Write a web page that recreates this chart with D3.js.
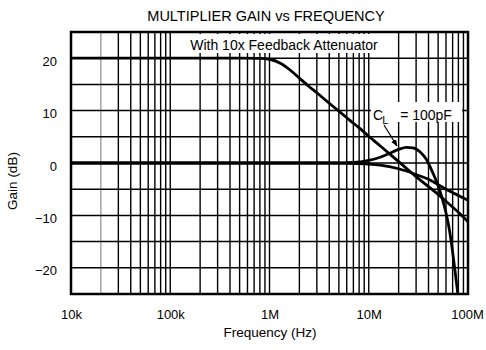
<!DOCTYPE html>
<html><head><meta charset="utf-8">
<script src="https://cdn.jsdelivr.net/npm/d3@7"></script>
<style>
html,body{margin:0;padding:0;background:#fff;}
svg{display:block;font-family:"Liberation Sans",Arial,Helvetica,sans-serif;}
</style></head>
<body><svg id="c" width="486" height="350"></svg>
<script>
// ---- data ----
const title = "MULTIPLIER GAIN vs FREQUENCY";
const xTickValues = [1e4, 1e5, 1e6, 1e7, 1e8];
const xTickLabels = ["10k", "100k", "1M", "10M", "100M"];
const yTickValues = [-20, -10, 0, 10, 20];
const yTickLabels = ["\u221220", "\u221210", "0", "10", "20"];
const yGridValues = [-20, -15, -10, -5, 0, 5, 10, 15, 20];

// With 10x feedback attenuator (20 dB)
const attenFreq = [1e4, 5e5, 8e5, 1e6, 1.3e6, 1.6e6, 2e6, 2.5e6, 3e6, 4e6, 5e6, 6.5e6, 8e6, 1e7, 1.3e7, 1.7e7, 2.2e7, 3e7, 4e7, 5e7, 6e7, 8e7, 1e8];
const attenGain = [20, 20, 19.95, 19.8, 19.0, 17.8, 16.2, 14.6, 13.4, 11.4, 9.9, 8.1, 6.7, 5.1, 3.3, 1.4, -0.4, -2.6, -4.5, -6.0, -7.3, -9.4, -11.2];
// Unity gain, no load
const unityFreq = [1e4, 4e6, 8e6, 1e7, 1.3e7, 2e7, 3e7, 4e7, 6e7, 8e7, 1e8];
const unityGain = [0, 0, -0.1, -0.2, -0.4, -1.1, -2.2, -3.1, -5.0, -6.2, -7.1];
// Unity gain, CL = 100pF
const loadFreq = [1e4, 4e6, 7e6, 1e7, 1.3e7, 1.6e7, 2e7, 2.4e7, 2.8e7, 3.3e7, 3.8e7, 4.4e7, 5e7, 5.5e7, 6e7, 6.5e7, 7e7, 7.5e7, 7.9e7];
const loadGain = [0, 0, 0.1, 0.5, 1.1, 1.8, 2.6, 3.0, 2.9, 2.1, 0.7, -1.8, -4.3, -6.8, -9.5, -12.8, -17.0, -21.5, -25];

const annotTop = "With 10x Feedback Attenuator";
const annotCL = ["C", "L", " = 100pF"];

// ---- layout ----
const svg = d3.select("#c");
const X0 = 71, X1 = 468, Y0 = 32, Y1 = 294;
const x = d3.scaleLog().domain([1e4, 1e8]).range([X0, X1]);
const y = d3.scaleLinear().domain([-25, 25]).range([Y1, Y0]);

svg.append("defs").append("clipPath").attr("id", "clip")
  .append("rect").attr("x", X0).attr("y", Y0).attr("width", X1 - X0).attr("height", Y1 - Y0);
svg.select("defs").append("marker").attr("id", "arr")
  .attr("viewBox", "0 0 10 10").attr("refX", 9).attr("refY", 5)
  .attr("markerWidth", 7).attr("markerHeight", 7).attr("orient", "auto")
  .attr("markerUnits", "userSpaceOnUse")
  .append("path").attr("d", "M0,1 L10,5 L0,9 Z").attr("fill", "#000");

// title
svg.append("text").attr("x", 266).attr("y", 21).attr("text-anchor", "middle")
  .attr("font-size", 14.5).text(title);

// grid
const vGrid = [];
for (let d = 4; d < 8; d++) for (let m = 1; m < 10; m++) vGrid.push(m * Math.pow(10, d));
vGrid.push(1e8);
const g = svg.append("g");
g.selectAll("line.v").data(vGrid).join("line")
  .attr("x1", d => x(d)).attr("x2", d => x(d)).attr("y1", Y0).attr("y2", Y1)
  .attr("stroke", "#000").attr("stroke-width", d => (d === 2e4 ? 0.9 : 1.4))
  .attr("stroke-opacity", d => (d === 2e4 ? 0.6 : 1));
g.selectAll("line.h").data(yGridValues).join("line")
  .attr("x1", X0).attr("x2", X1).attr("y1", d => y(d)).attr("y2", d => y(d))
  .attr("stroke", "#000").attr("stroke-width", 1.5);

// annotation boxes (white backgrounds)
svg.append("rect").attr("x", 173).attr("y", 34).attr("width", 219).attr("height", 19).attr("fill", "#fff");
svg.append("rect").attr("x", 371).attr("y", 102).attr("width", 91).attr("height", 20).attr("fill", "#fff");

// curves
const line = d3.line().x(d => x(d[0])).y(d => y(d[1])).curve(d3.curveMonotoneX);
const curves = [
  d3.zip(attenFreq, attenGain),
  d3.zip(unityFreq, unityGain),
  d3.zip(loadFreq, loadGain)
];
svg.append("g").attr("clip-path", "url(#clip)").selectAll("path").data(curves).join("path")
  .attr("d", line).attr("fill", "none").attr("stroke", "#000")
  .attr("stroke-width", 2.8).attr("stroke-linejoin", "round");

// frame
svg.append("rect").attr("x", X0).attr("y", Y0).attr("width", X1 - X0).attr("height", Y1 - Y0)
  .attr("fill", "none").attr("stroke", "#000").attr("stroke-width", 2.5);

// annotation texts
svg.append("text").attr("x", 284).attr("y", 49.5).attr("text-anchor", "middle")
  .attr("font-size", 14).text(annotTop);
const cl = svg.append("text").attr("x", 373).attr("y", 120).attr("font-size", 14);
cl.append("tspan").text(annotCL[0]);
cl.append("tspan").attr("dy", 4).attr("dx", -1).attr("font-size", 11).text(annotCL[1]);
cl.append("tspan").attr("dy", -4).attr("dx", 8).text(annotCL[2]);
svg.append("line").attr("x1", 384).attr("y1", 125).attr("x2", 397).attr("y2", 146)
  .attr("stroke", "#000").attr("stroke-width", 1.2).attr("marker-end", "url(#arr)");

// axes (labels only)
const xAxis = d3.axisBottom(x).tickValues(xTickValues)
  .tickFormat((d, i) => xTickLabels[i]).tickSize(0).tickPadding(0);
const xa = svg.append("g").attr("transform", `translate(0,${Y1 + 25})`).call(xAxis);
xa.select(".domain").remove();
xa.selectAll("text").attr("font-size", 13).attr("fill", "#000").attr("dy", 0)
  .attr("font-family", "Liberation Sans, Arial, sans-serif")
  .attr("dx", (d) => (d === 1e8 ? -1 : 0));

const yAxis = d3.axisLeft(y).tickValues(yTickValues)
  .tickFormat((d, i) => yTickLabels[i]).tickSize(0).tickPadding(0);
const ya = svg.append("g").attr("transform", `translate(${X0 - 14},0)`).call(yAxis);
ya.select(".domain").remove();
ya.selectAll("text").attr("font-size", 13).attr("fill", "#000").attr("dy", "0.55em")
  .attr("font-family", "Liberation Sans, Arial, sans-serif");

svg.append("text").attr("x", 270).attr("y", 337).attr("text-anchor", "middle")
  .attr("font-size", 13.5).text("Frequency (Hz)");
svg.append("text").attr("transform", "translate(17,181) rotate(-90)").attr("text-anchor", "middle")
  .attr("font-size", 13.5).text("Gain (dB)");
</script></body></html>
